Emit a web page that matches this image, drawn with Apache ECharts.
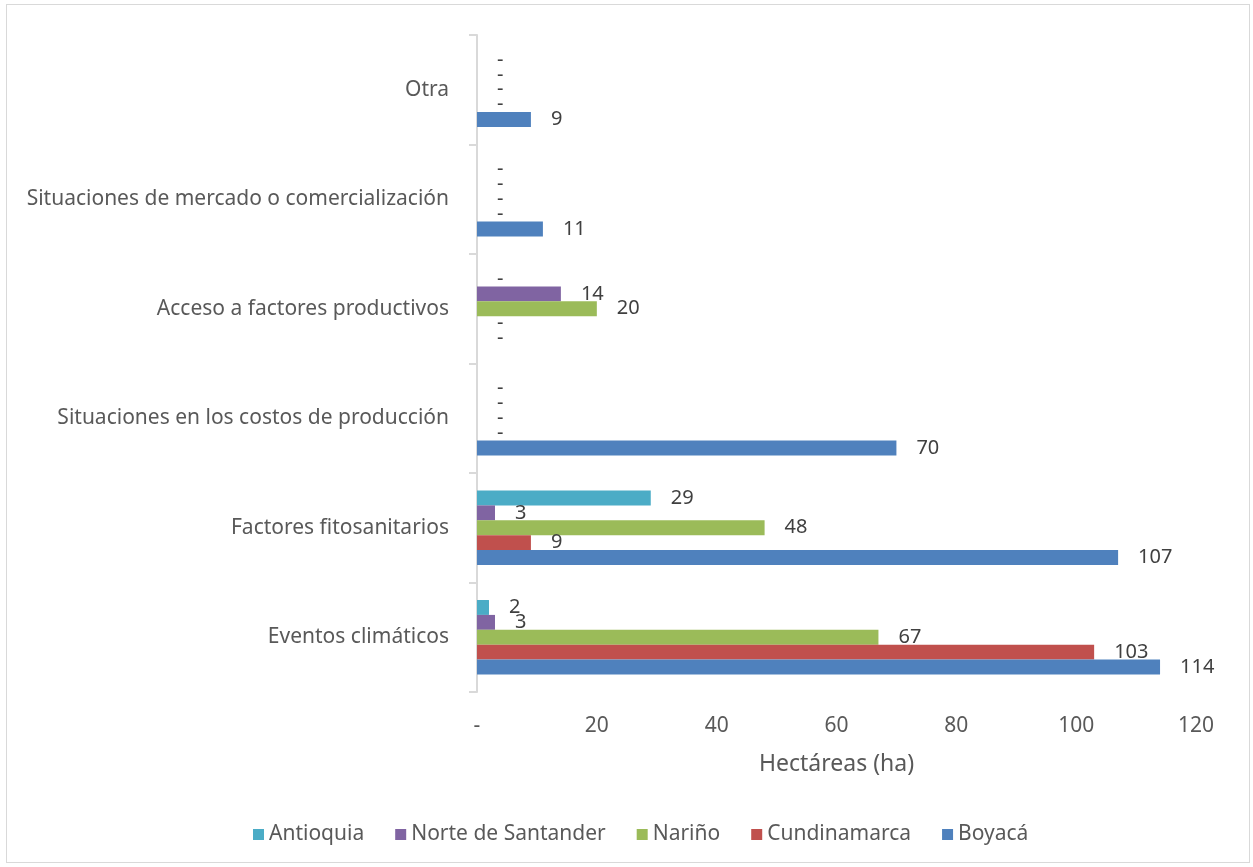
<!DOCTYPE html>
<html>
<head>
<meta charset="utf-8">
<script src="https://cdn.jsdelivr.net/npm/echarts@6/dist/echarts.min.js"></script>
<style>
  html, body { margin: 0; padding: 0; background: #fff; }
  #frame { position: absolute; left: 6px; top: 4px; width: 1242px; height: 857px; border: 1px solid #d9d9d9; }
  #chart { width: 1253px; height: 867px; }
</style>
</head>
<body>
<div id="frame"></div>
<div id="chart"></div>
<script>
  // categorias, de abajo hacia arriba
  var categories = [
    'Eventos climáticos',
    'Factores fitosanitarios',
    'Situaciones en los costos de producción',
    'Acceso a factores productivos',
    'Situaciones de mercado o comercialización',
    'Otra'
  ];

  // hectareas por departamento
  var boyaca = [114, 107, 70, 0, 11, 9];
  var cundinamarca = [103, 9, 0, 0, 0, 0];
  var narino = [67, 48, 0, 20, 0, 0];
  var norteSantander = [3, 3, 0, 14, 0, 0];
  var antioquia = [2, 29, 0, 0, 0, 0];

  var xTicks = [0, 20, 40, 60, 80, 100, 120];

  var legendOrder = ['Antioquia', 'Norte de Santander', 'Nariño', 'Cundinamarca', 'Boyacá'];

  var font = 'Noto Sans';

  function makeSeries(name, data, color) {
    return {
      name: name,
      type: 'bar',
      data: data,
      barGap: '0%',
      barCategoryGap: '32%',
      itemStyle: { color: color },
      label: {
        show: true,
        position: 'right',
        distance: 20,
        color: '#404040',
        fontFamily: font,
        fontSize: 20,
        formatter: function (p) { return p.value === 0 ? '-' : p.value; }
      }
    };
  }

  var chart = echarts.init(document.getElementById('chart'));

  // en ECharts la primera serie queda arriba dentro del grupo
  var option = {
    animation: false,
    textStyle: { fontFamily: font },
    grid: { left: 477, right: 57, top: 35, bottom: 175 },
    legend: {
      data: legendOrder,
      top: 819,
      left: 248,
      itemWidth: 11,
      itemHeight: 11,
      itemGap: 31,
      icon: 'rect',
      textStyle: { color: '#595959', fontSize: 21, fontFamily: font }
    },
    xAxis: {
      type: 'value',
      min: xTicks[0],
      max: xTicks[xTicks.length - 1],
      interval: 20,
      name: 'Hectáreas (ha)',
      nameLocation: 'middle',
      nameGap: 61,
      nameTextStyle: { color: '#595959', fontSize: 23, fontFamily: font },
      axisLine: { show: false },
      axisTick: { show: false },
      splitLine: { show: false },
      axisLabel: {
        color: '#595959',
        fontSize: 21,
        margin: 24,
        formatter: function (v) { return v === 0 ? '-' : v; }
      }
    },
    yAxis: {
      type: 'category',
      data: categories,
      axisLine: { lineStyle: { color: '#d9d9d9', width: 2 } },
      axisTick: { show: true, length: 8, lineStyle: { color: '#d9d9d9', width: 2 } },
      axisLabel: { color: '#595959', fontSize: 21, margin: 28 }
    },
    series: [
      makeSeries('Antioquia', antioquia, '#4BACC6'),
      makeSeries('Norte de Santander', norteSantander, '#8064A2'),
      makeSeries('Nariño', narino, '#9BBB59'),
      makeSeries('Cundinamarca', cundinamarca, '#C0504D'),
      makeSeries('Boyacá', boyaca, '#4F81BD')
    ]
  };

  chart.setOption(option);
</script>
</body>
</html>
